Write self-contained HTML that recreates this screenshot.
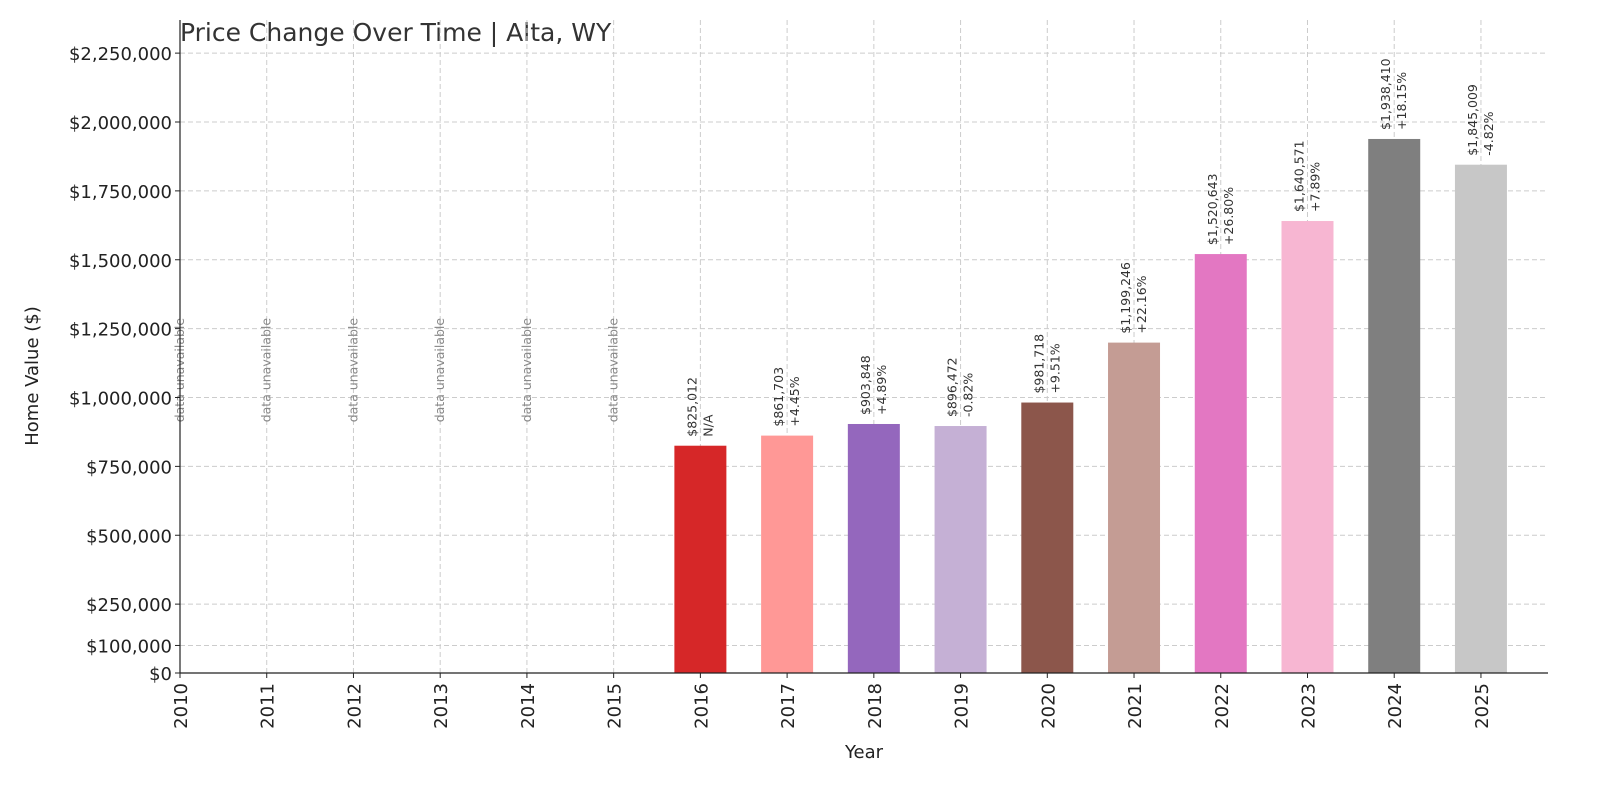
<!DOCTYPE html>
<html><head><meta charset="utf-8"><style>
html,body{margin:0;padding:0;background:#fff;}
svg{display:block;font-family:"DejaVu Sans","Liberation Sans",sans-serif;}
</style></head><body>
<svg id="chart" width="1600" height="800" viewBox="0 0 1600 800" xmlns="http://www.w3.org/2000/svg">
<text x="180" y="41" font-size="25" fill="#333">Price Change Over Time | Alta, WY</text>
<text transform="translate(38,376) rotate(-90)" text-anchor="middle" font-size="18" fill="#222">Home Value ($)</text>
<text x="864" y="758" text-anchor="middle" font-size="18" fill="#222">Year</text>
<g id="grid"></g><g id="bars"></g><g id="labels"></g><g id="axes"></g>
</svg>
<script>
const years=[2010,2011,2012,2013,2014,2015,2016,2017,2018,2019,2020,2021,2022,2023,2024,2025];
const values=[null,null,null,null,null,null,825012,861703,903848,896472,981718,1199246,1520643,1640571,1938410,1845009];
const changes=["","","","","","","N/A","+4.45%","+4.89%","-0.82%","+9.51%","+22.16%","+26.80%","+7.89%","+18.15%","-4.82%"];
const yTicks=[0,100000,250000,500000,750000,1000000,1250000,1500000,1750000,2000000,2250000];
const colors=["#1f77b4","#aec7e8","#ff7f0e","#ffbb78","#2ca02c","#98df8a","#d62728","#ff9896","#9467bd","#c5b0d5","#8c564b","#c49c94","#e377c2","#f7b6d2","#7f7f7f","#c7c7c7"];
const NS="http://www.w3.org/2000/svg";
const L=180,R=1548,T=20,B=673;
const x=y=>L+(y-2010)*86.73;
const yv=v=>B-v*(551/2000000);
function mk(tag,attrs,parent,txt){const e=document.createElementNS(NS,tag);for(const k in attrs)e.setAttribute(k,attrs[k]);if(txt!==undefined)e.textContent=txt;parent.appendChild(e);return e;}
const grid=document.getElementById('grid'),bars=document.getElementById('bars'),labels=document.getElementById('labels'),axes=document.getElementById('axes');
const fmt=v=>'$'+v.toLocaleString('en-US');
yTicks.forEach(t=>{
 const g=mk('line',{x1:L,x2:R,y1:yv(t),y2:yv(t),stroke:'#ccc','stroke-dasharray':'5,3','stroke-width':1},grid);
 
 
 mk('line',{x1:L-5,x2:L,y1:yv(t),y2:yv(t),stroke:'#222'},axes);
 const tl=mk('text',{x:L-8,y:yv(t)+7,'text-anchor':'end','font-size':18,fill:'#222'},axes,fmt(t));
 
 
});
years.forEach((yr,i)=>{
 const cx=x(yr);
 const g=mk('line',{x1:cx,x2:cx,y1:T,y2:B,stroke:'#ccc','stroke-dasharray':'5,3','stroke-width':1},grid);
 
 
 mk('line',{x1:cx,x2:cx,y1:B,y2:B+5,stroke:'#222'},axes);
 const tl=mk('text',{transform:`translate(${cx+7},${B+10}) rotate(-90)`,'text-anchor':'end','font-size':18,fill:'#222'},axes,String(yr));
 
 
 const v=values[i];
 if(v===null){
  const t=mk('text',{transform:`translate(${cx+4},${yv(910000)}) rotate(-90)`,'font-size':12.5,fill:'#888'},labels,'data unavailable');
  
  
 } else {
  const bw=52;
  const r=mk('rect',{x:cx-bw/2,y:yv(v),width:bw,height:B-yv(v),fill:colors[i]},bars);
  
  
  const by=yv(v)-9;
  const t1=mk('text',{transform:`translate(${cx-4},${by}) rotate(-90)`,'font-size':12.5,fill:'#333'},labels,fmt(v));
  
  
  const t2=mk('text',{transform:`translate(${cx+12},${by}) rotate(-90)`,'font-size':12.5,fill:'#333'},labels,changes[i]);
  
  
 }
});
mk('line',{x1:L,x2:L,y1:T,y2:B,stroke:'#222','stroke-width':1.2},axes);
mk('line',{x1:L,x2:R,y1:B,y2:B,stroke:'#222','stroke-width':1.2},axes);
</script>
</body></html>
